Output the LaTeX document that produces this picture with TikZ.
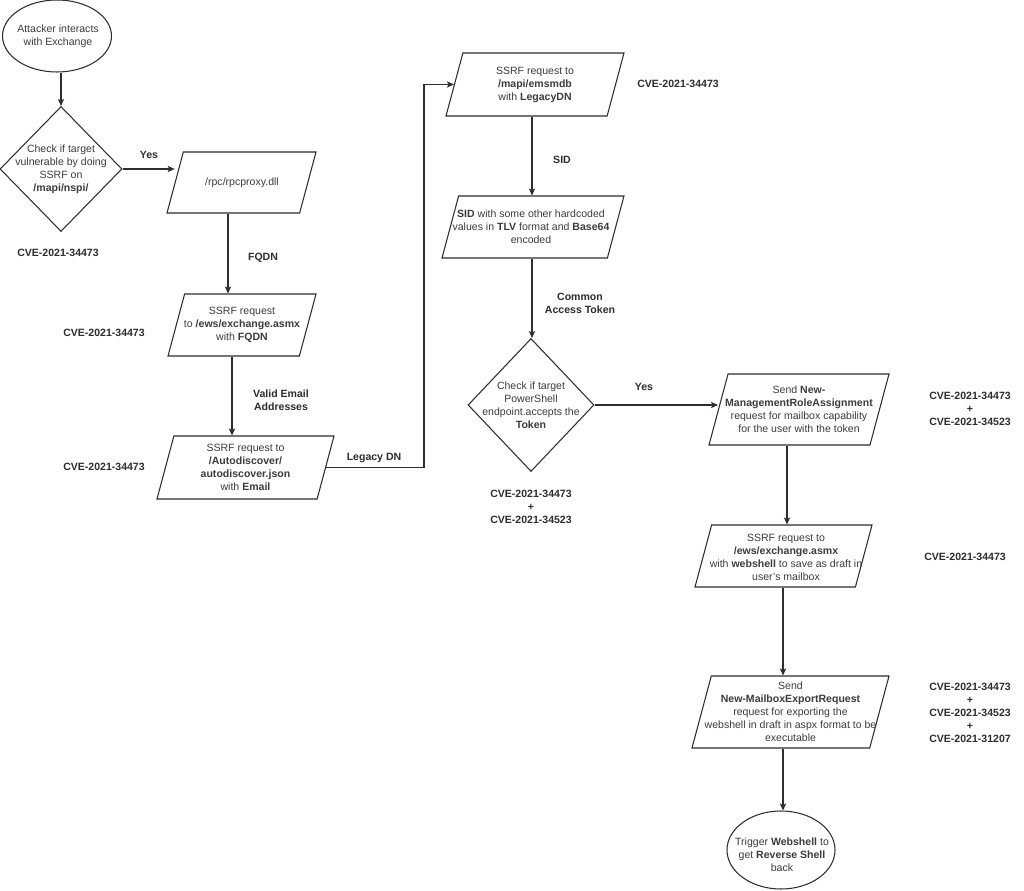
\documentclass[tikz,border=0pt]{standalone}
\usepackage{fontspec}
\setmainfont{Liberation Sans}
\usetikzlibrary{arrows.meta,positioning,shapes.geometric}
\definecolor{ink}{HTML}{2E2E2E}
\definecolor{grey}{HTML}{3C3C3C}
\newlength\pxl
\setlength\pxl{0.02cm}

\begin{document}
\begin{tikzpicture}[x=0.02cm, y=-0.02cm,
    every node/.style={font=\fontsize{6}{7.4}\selectfont, text=grey, align=center, inner sep=0pt},
    flow/.style={draw=ink, line width=0.6pt, -{Stealth[length=4pt, width=3.6pt, inset=1pt]}},
    outline/.style={draw=ink, line width=0.6pt},
    io/.style n args={2}{outline, shape=trapezium, trapezium left angle=75, trapezium right angle=105,
      trapezium stretches body, minimum width=#1*0.02cm, execute at begin node={\rule{0pt}{#2\pxl}}},
    decision/.style={outline, shape=diamond},
    terminal/.style={outline, shape=ellipse},
    boxsize/.style n args={2}{minimum width=#1*0.02cm, minimum height=#2*0.02cm},
    tag/.style={font=\bfseries\fontsize{6}{7.4}\selectfont, text=ink}]
  \fill[white] (0,0) rectangle (1024,891);
  \useasboundingbox (0,0) rectangle (1024,891);

  % left column
  \node[terminal, boxsize={109}{72}] (start) at (57,36) {};
  \node (starttext) at (58,36) {Attacker interacts\\with Exchange};
  \node[decision, boxsize={122}{125}] (nspi) at (61,169) {};
  \node (nspitext) at (nspi) {Check if target\\vulnerable by doing\\SSRF on\\\textbf{/mapi/nspi/}};
  \node[tag] (cvenspi) at (58,253) {CVE-2021-34473};

  \node[io={149}{61}] (rpc) at (241.5,182.5) {};
  \node (rpctext) at (242,183) {/rpc/rpcproxy.dll};
  \node[io={148}{62}] (ews) at (242,325) {};
  \node (ewstext) at (ews) {SSRF request\\to \textbf{/ews/exchange.asmx}\\with \textbf{FQDN}};
  \node[tag] (cveews) at (104,333) {CVE-2021-34473};
  \node[io={177}{63}] (auto) at (245.5,467.5) {};
  \node (autotext) at (auto) {SSRF request to\\\textbf{/Autodiscover/}\\\textbf{autodiscover.json}\\with \textbf{Email}};
  \node[tag] (cveauto) at (104,467) {CVE-2021-34473};

  % middle column
  \node[io={178}{63}] (emsmdb) at (535,84.5) {};
  \node (emsmdbtext) at (emsmdb) {SSRF request to\\\textbf{/mapi/emsmdb}\\with \textbf{LegacyDN}};
  \node[tag] (cveemsmdb) at (678,84) {CVE-2021-34473};
  \node[io={182}{62}] (sid) at (533,227) {};
  \node (sidtext) at (531,227) {\textbf{SID} with some other hardcoded\\values in \textbf{TLV} format and \textbf{Base64}\\encoded};
  \node[decision, boxsize={126}{133}] (token) at (531,405) {};
  \node (tokentext) at (token) {Check if target\\PowerShell\\endpoint.accepts the\\\textbf{Token}};
  \node[tag] (cvetoken) at (531,507) {CVE-2021-34473\\+\\CVE-2021-34523};

  % right column
  \node[io={180}{71}] (role) at (799,409.5) {};
  \node (roletext) at (role) {Send \textbf{New-}\\\textbf{ManagementRoleAssignment}\\request for mailbox capability\\for the user with the token};
  \node[tag] (cverole) at (970,409) {CVE-2021-34473\\+\\CVE-2021-34523};
  \node[io={177}{62}] (draft) at (783.5,556) {};
  \node (drafttext) at (786,557) {SSRF request to\\\textbf{/ews/exchange.asmx}\\with \textbf{webshell} to save as draft in\\user's mailbox};
  \node[tag] (cvedraft) at (965,557) {CVE-2021-34473};
  \node[io={197}{72}] (export) at (790.5,712) {};
  \node (exporttext) at (export) {Send\\\textbf{New-MailboxExportRequest}\\request for exporting the\\webshell in draft in aspx format to be\\executable};
  \node[tag] (cveexport) at (970,713) {CVE-2021-34473\\+\\CVE-2021-34523\\+\\CVE-2021-31207};
  \node[terminal, boxsize={108}{78}] (shell) at (781,850) {};
  \node (shelltext) at (782,855) {Trigger \textbf{Webshell} to\\get \textbf{Reverse Shell}\\back};

  % lanes of the vertical connectors
  \coordinate (lanefqdn) at (228,0);
  \coordinate (lanemail) at (232,0);
  \coordinate (laneup) at (424,300);
  \coordinate (lanemid) at (532,0);
  \coordinate (laneright) at (787,0);
  \coordinate (lanelow) at (783,0);

  % connectors
  \draw[flow] (start.south -| nspi) -- (nspi.north);
  \draw[flow] (nspi.east) -- (nspi.east -| rpc.west);
  \draw[flow] (rpc.south -| lanefqdn) -- (ews.north -| lanefqdn);
  \draw[flow] (ews.south -| lanemail) -- (auto.north -| lanemail);
  \draw[flow] (auto.east) -| (laneup) |- (emsmdb.west);
  \draw[flow] (emsmdb.south -| lanemid) -- (sid.north -| lanemid);
  \draw[flow] (sid.south -| lanemid) -- (token.north -| lanemid);
  \draw[flow] (token.east) -- (token.east -| role.west);
  \draw[flow] (role.south -| laneright) -- (draft.north -| laneright);
  \draw[flow] (draft.south -| lanelow) -- (export.north -| lanelow);
  \draw[flow] (export.south -| lanelow) -- (shell.north -| lanelow);

  % edge labels
  \node[tag] (yesnspi) at (149,155) {Yes};
  \node[tag] (fqdn) at (263,258) {FQDN};
  \node[tag] (validmail) at (281,400) {Valid Email\\Addresses};
  \node[tag] (legacydn) at (374,458) {Legacy DN};
  \node[tag] (sidlabel) at (562,160) {SID};
  \node[tag] (cat) at (580,303) {Common\\Access Token};
  \node[tag] (yestoken) at (644,387) {Yes};
\end{tikzpicture}
\end{document}
